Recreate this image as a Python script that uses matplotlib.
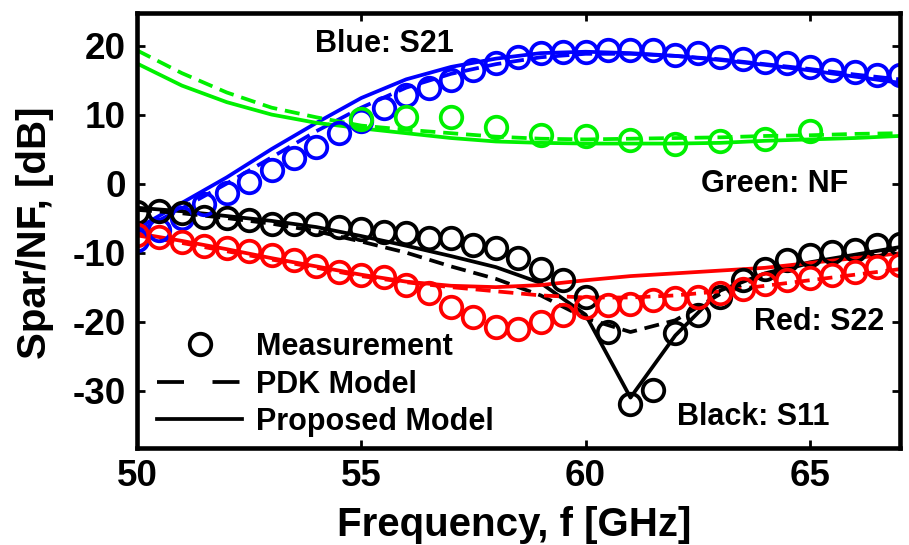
import numpy as np
import matplotlib
matplotlib.use("Agg")
from matplotlib import pyplot as plt
from matplotlib.lines import Line2D

plt.rcParams['font.family'] = ['Liberation Sans', 'DejaVu Sans']
plt.rcParams['font.weight'] = 'bold'
plt.rcParams['axes.unicode_minus'] = False

# measured points (every 0.5 GHz), green NF every 1 GHz
f_meas = np.arange(50, 67.01, 0.5)
s21_meas = [-8.2, -6.7, -5.0, -2.9, -1.4, 0.3, 2.0, 3.7, 5.3, 7.3, 9.0, 10.9,
            12.8, 13.8, 15.0, 16.4, 17.4, 18.4, 18.9, 19.1, 19.1, 19.3, 19.3,
            19.3, 18.6, 18.9, 18.4, 18.1, 17.6, 17.4, 16.9, 16.4, 16.2, 15.7, 15.7]
s11_meas = [-4.1, -4.0, -4.3, -4.8, -5.0, -5.3, -5.8, -5.8, -5.9, -6.3, -6.6,
            -7.0, -7.2, -7.9, -7.9, -8.9, -9.4, -10.8, -12.3, -14.0, -16.4,
            -21.5, -31.9, -29.9, -21.7, -19.1, -16.4, -14.0, -12.3, -11.1,
            -10.4, -9.9, -9.6, -8.9, -8.7]
s22_meas = [-7.5, -7.8, -8.5, -9.0, -9.4, -9.8, -10.4, -11.1, -12.0, -12.8,
            -13.3, -13.5, -14.7, -15.9, -17.9, -19.3, -20.8, -21.0, -20.0,
            -19.1, -17.9, -17.6, -17.4, -16.9, -16.6, -16.4, -15.9, -15.2,
            -14.5, -14.0, -13.7, -13.3, -12.8, -12.1, -11.8]
f_nf = np.arange(55, 66)
nf_meas = [9.3, 9.6, 9.6, 8.2, 7.0, 6.9, 6.3, 5.8, 6.2, 6.4, 7.6]

# model curves (1 GHz grid)
f_mod = np.arange(50, 68)
s21_prop = [-6.5, -2.8, 0.9, 5.0, 8.8, 12.4, 15.1, 16.9, 18.1, 18.9, 19.1,
            18.9, 18.5, 17.9, 17.2, 16.4, 15.5, 14.6]
s21_pdk = [-7.0, -3.6, 0.0, 3.8, 7.6, 11.0, 13.9, 15.9, 17.3, 18.3, 18.8,
           18.8, 18.5, 18.0, 17.3, 16.6, 15.8, 15.1]
s11_prop = [-3.5, -4.0, -4.7, -5.4, -6.3, -7.6, -9.0, -10.5, -12.1, -14.4,
            -19.0, -31.0, -22.0, -15.5, -13.0, -11.4, -10.3, -9.2]
s11_pdk = [-3.8, -4.3, -5.0, -5.8, -6.9, -8.4, -10.0, -12.0, -13.8, -16.2,
           -19.5, -21.5, -19.8, -16.0, -13.2, -11.5, -10.4, -9.4]
s22_prop = [-7.2, -8.3, -9.5, -10.8, -12.0, -13.2, -14.2, -14.8, -15.0, -14.7,
            -14.0, -13.4, -13.0, -12.6, -12.2, -11.5, -10.8, -10.1]
s22_pdk = [-7.5, -8.6, -9.8, -11.0, -12.2, -13.4, -14.3, -15.0, -15.6, -16.2,
           -16.5, -16.5, -16.2, -15.6, -14.8, -14.0, -13.2, -12.4]
nf_prop = [17.4, 14.2, 11.8, 10.0, 8.8, 8.0, 7.3, 6.6, 6.1, 5.9, 5.8, 5.8,
           5.8, 5.9, 6.2, 6.4, 6.6, 6.9]
nf_pdk = [19.3, 16.0, 13.2, 11.0, 9.6, 8.4, 7.8, 7.3, 6.8, 6.5, 6.4, 6.5,
          6.6, 6.7, 6.9, 7.0, 7.2, 7.3]

lw = 2.7
dash = (4.0, 2.1)
ms = 15.5
mew = 2.7

fig = plt.figure(figsize=(9.09, 5.45), dpi=100)
ax = fig.add_axes([0.1507, 0.178, 0.839, 0.798])

series = [
    ('#0000ff', s21_prop, s21_pdk, f_meas, s21_meas),
    ('#00f000', nf_prop, nf_pdk, f_nf, nf_meas),
    ('#000000', s11_prop, s11_pdk, f_meas, s11_meas),
    ('#ff0000', s22_prop, s22_pdk, f_meas, s22_meas),
]
for clr, prop, pdk, fm, meas in series:
    ax.plot(f_mod, prop, color=clr, lw=lw)
    ax.plot(f_mod, pdk, color=clr, lw=lw, dashes=dash)
for clr, prop, pdk, fm, meas in series:
    ax.plot(fm, meas, 'o', color=clr, mfc='none', ms=ms, mew=mew)

ax.set_xlim(50, 67)
ax.set_ylim(-38.3, 24.7)
ax.set_xticks([50, 55, 60, 65])
ax.set_yticks([-30, -20, -10, 0, 10, 20])
ax.tick_params(direction='in', length=6, width=2, top=True, right=True,
               labelsize=26.5, pad=8)
for sp in ax.spines.values():
    sp.set_linewidth(3.3)

ax.set_xlabel('Frequency, f [GHz]', fontsize=29, fontweight='bold', va='center')
ax.set_ylabel('Spar/NF, [dB]', fontsize=29, fontweight='bold', va='center')
ax.xaxis.set_label_coords(0.494, -0.177)
ax.yaxis.set_label_coords(-0.134, 0.494)

tfs = 22
ax.text(53.96, 20.2, 'Blue: S21', fontsize=tfs, ha='left', va='center')
ax.text(62.58, 0.0, 'Green: NF', fontsize=tfs, ha='left', va='center')
ax.text(63.76, -20.0, 'Red: S22', fontsize=tfs, ha='left', va='center')
ax.text(62.03, -33.8, 'Black: S11', fontsize=tfs, ha='left', va='center')

handles = [
    Line2D([], [], ls='none', marker='o', color='k', mfc='none', ms=ms, mew=mew),
    Line2D([], [], color='k', lw=lw, dashes=(7.2, 7.6)),
    Line2D([], [], color='k', lw=lw),
]
labels = ['Measurement', 'PDK Model', 'Proposed Model']
ax.legend(handles, labels, loc='upper left', bbox_to_anchor=(0.026, 0.267),
          frameon=False, fontsize=22, handlelength=2.8, handletextpad=0.46,
          labelspacing=0.25, borderpad=0, borderaxespad=0)

plt.savefig('out.png', dpi=100)
